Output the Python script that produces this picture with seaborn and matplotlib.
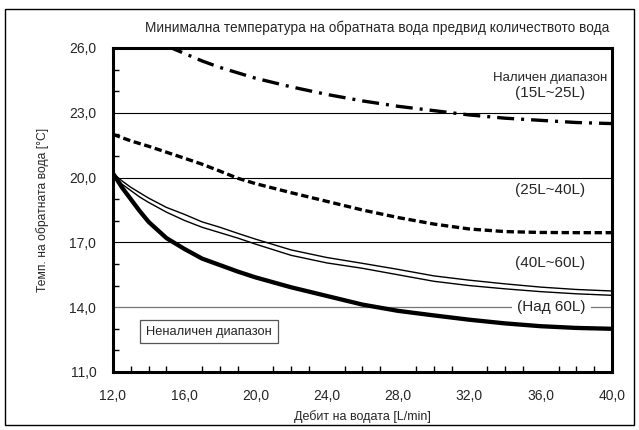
import numpy as np
import pandas as pd
import matplotlib
matplotlib.use("Agg")
import matplotlib.pyplot as plt
from matplotlib.patches import Rectangle
import seaborn as sns

# Data (flow L/min -> min return water temp degC)
x_15_25 = [15.0, 16, 17, 18, 20, 22, 24, 26, 28, 30, 32, 34, 36, 38, 40]
y_15_25 = [26.1, 25.75, 25.4, 25.1, 24.6, 24.2, 23.85, 23.55, 23.3, 23.1, 22.9, 22.75, 22.65, 22.55, 22.5]

x_25_40 = [12, 13, 14, 16, 17, 18, 19, 20, 22, 24, 26, 28, 30, 32, 34, 36, 38, 40]
y_25_40 = [22.0, 21.7, 21.45, 20.9, 20.62, 20.3, 19.97, 19.72, 19.3, 18.9, 18.5, 18.15, 17.85, 17.62,
           17.5, 17.46, 17.45, 17.45]

x_40_60 = [12, 12.5, 13, 13.5, 14, 15, 16, 17, 18, 19, 20, 22, 24, 26, 28, 30, 32, 34, 36, 38, 40]
y_40_60_hi = [20.2, 19.85, 19.55, 19.3, 19.05, 18.62, 18.3, 17.95, 17.7, 17.42, 17.15, 16.65, 16.3,
              16.03, 15.75, 15.45, 15.25, 15.08, 14.93, 14.82, 14.75]
y_40_60_lo = [20.2, 19.7, 19.4, 19.1, 18.85, 18.4, 18.02, 17.7, 17.45, 17.2, 16.92, 16.4, 16.05,
              15.8, 15.5, 15.2, 15.0, 14.85, 14.72, 14.62, 14.55]

x_60 = [12, 12.5, 13, 13.5, 14, 15, 16, 17, 18, 19, 20, 22, 24, 26, 28, 30, 32, 34, 36, 38, 40]
y_60 = [20.2, 19.55, 19.0, 18.45, 17.95, 17.2, 16.7, 16.25, 15.95, 15.65, 15.38, 14.92, 14.52,
        14.12, 13.83, 13.62, 13.42, 13.25, 13.12, 13.04, 13.0]

x_ticks = [12, 16, 20, 24, 28, 32, 36, 40]
y_ticks = [11, 14, 17, 20, 23, 26]
grid_y = [17, 20, 23]

sns.set_style("white")
plt.rcParams['font.family'] = ['Liberation Sans', 'DejaVu Sans']

fig = plt.figure(figsize=(6.39, 4.30), dpi=100)
ax = fig.add_axes([0.1768, 0.1349, 0.7809, 0.7535])

for g in grid_y:
    ax.axhline(g, color="black", lw=0.8, zorder=1)
ax.axhline(14, color="#777777", lw=0.9, zorder=1)

sns.lineplot(x=x_15_25, y=y_15_25, ax=ax, color="black", lw=2.4,
             linestyle=(0, (5.1, 2.1, 0.9, 2.1)), zorder=3)
sns.lineplot(x=x_25_40, y=y_25_40, ax=ax, color="black", lw=2.4,
             linestyle=(0, (2.2, 1.1)), zorder=3)
sns.lineplot(x=x_40_60, y=y_40_60_hi, ax=ax, color="black", lw=1.0, zorder=3)
sns.lineplot(x=x_40_60, y=y_40_60_lo, ax=ax, color="black", lw=1.0, zorder=3)
sns.lineplot(x=x_60, y=y_60, ax=ax, color="black", lw=3.1, zorder=3)

ax.set_xlim(12, 40)
ax.set_ylim(11, 26)
ax.set_xticks(x_ticks)
ax.set_xticklabels([f"{v:.1f}".replace(".", ",") for v in x_ticks], fontsize=10)
ax.set_yticks(y_ticks)
ax.set_yticklabels([f"{v:.1f}".replace(".", ",") for v in y_ticks], fontsize=10)
ax.set_xticks(np.arange(13, 40), minor=True)
ax.set_yticks(np.arange(12, 26), minor=True)
ax.tick_params(which="major", length=0, pad=12)
ax.tick_params(which="minor", direction="in", length=4.5, width=1, colors="black")
ax.tick_params(axis="x", which="minor", bottom=True)
ax.tick_params(axis="y", which="minor", left=True)

for s in ax.spines.values():
    s.set_linewidth(2.2)
    s.set_color("black")
    s.set_visible(True)

ax.set_xlabel("Дебит на водата [L/min]", fontsize=9, labelpad=5)
ax.set_ylabel("Темп. на обратната вода [°C]", fontsize=8.7, va="center")
ax.yaxis.set_label_coords(-0.142, 0.5)
fig.text(609 / 639, 1 - 28 / 430,
         "Минимална температура на обратната вода предвид количеството вода",
         fontsize=9.8, ha="right", va="center")

ax.text(39.75, 24.63, "Наличен диапазон", fontsize=9.5, ha="right", va="center")
ax.text(36.55, 23.93, "(15L~25L)", fontsize=11, ha="center", va="center")
ax.text(36.55, 19.43, "(25L~40L)", fontsize=11, ha="center", va="center")
ax.text(36.55, 16.03, "(40L~60L)", fontsize=11, ha="center", va="center")
ax.text(36.6, 14.0, "(Над 60L)", fontsize=11, ha="center", va="center", zorder=4,
        bbox=dict(facecolor="white", edgecolor="none", pad=4))
ax.text(13.85, 12.87, "Неналичен диапазон", fontsize=9.3, ha="left", va="center",
        bbox=dict(boxstyle="square,pad=0.45", facecolor="white", edgecolor="#555555", lw=0.9))

fig.patches.append(Rectangle((0.008, 0.012), 0.984, 0.968, transform=fig.transFigure,
                             fill=False, edgecolor="black", lw=1.0))

fig.savefig("out.png", dpi=100)
